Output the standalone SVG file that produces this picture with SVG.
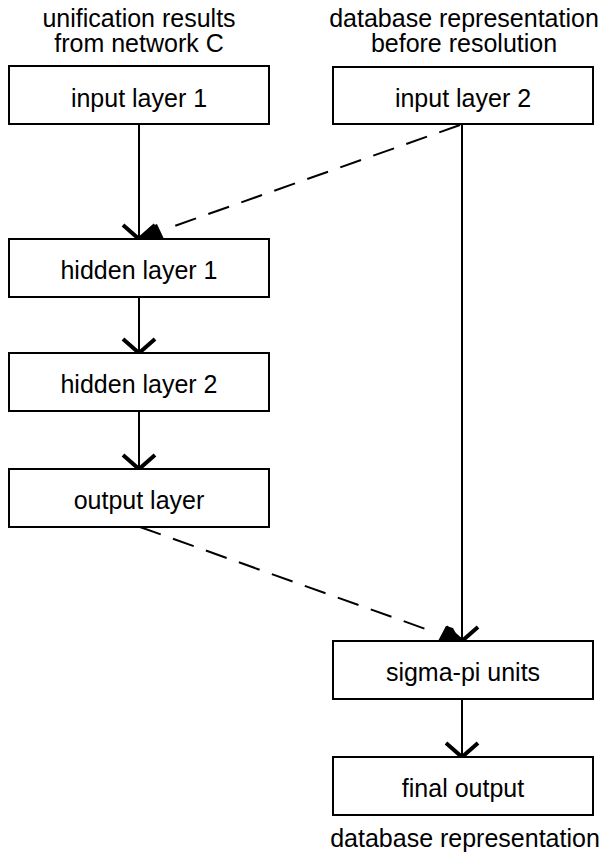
<svg xmlns="http://www.w3.org/2000/svg" width="609" height="859" viewBox="0 0 609 859">
<style>
.box{fill:#fff;stroke:#000;stroke-width:2}
.lbl{font-family:"Liberation Sans",Arial,sans-serif;font-size:25px;fill:#000;text-anchor:middle}
.ln{stroke:#000;stroke-width:2;fill:none}
.dash{stroke:#000;stroke-width:2;fill:none;stroke-dasharray:22 13}
.v{stroke:#000;stroke-width:4;fill:none;stroke-linecap:butt}
.head{fill:#000;stroke:none}
</style>
<rect width="609" height="859" fill="#fff"/>
<g id="labels">
<text class="lbl" x="139" y="27">unification results</text>
<text class="lbl" x="139" y="52">from network C</text>
<text class="lbl" x="464" y="27">database representation</text>
<text class="lbl" x="464" y="52">before resolution</text>
<text class="lbl" x="465" y="847">database representation</text>
</g>
<g id="connectors">
<line class="ln" x1="139" y1="124" x2="139" y2="239"/>
<path class="v" d="M123,225 L139,239 L155,225"/>
<line class="ln" x1="139" y1="297" x2="139" y2="353"/>
<path class="v" d="M123,339 L139,353 L155,339"/>
<line class="ln" x1="139" y1="411" x2="139" y2="469"/>
<path class="v" d="M123,455 L139,469 L155,455"/>
<line class="ln" x1="462" y1="124" x2="462" y2="641"/>
<path class="v" d="M446,627 L462,641 L478,627"/>
<line class="ln" x1="462" y1="699" x2="462" y2="757"/>
<path class="v" d="M446,743 L462,757 L478,743"/>
<line class="dash" x1="460" y1="125" x2="166" y2="229"/>
<polygon class="head" points="141,239 150,227 157,224 164,239"/>
<line class="dash" x1="140" y1="527" x2="434" y2="632"/>
<polygon class="head" points="460,641 453,628 446,626 438,641"/>
</g>
<g id="input1"><rect class="box" x="9" y="66" width="260" height="58"/><text class="lbl" x="139" y="107">input layer 1</text></g>
<g id="input2"><rect class="box" x="333" y="67" width="260" height="57"/><text class="lbl" x="463" y="107">input layer 2</text></g>
<g id="hidden1"><rect class="box" x="9" y="239" width="260" height="58"/><text class="lbl" x="139" y="279">hidden layer 1</text></g>
<g id="hidden2"><rect class="box" x="9" y="353" width="260" height="58"/><text class="lbl" x="139" y="393">hidden layer 2</text></g>
<g id="output"><rect class="box" x="9" y="469" width="260" height="58"/><text class="lbl" x="139" y="509">output layer</text></g>
<g id="sigma"><rect class="box" x="333" y="641" width="260" height="58"/><text class="lbl" x="463" y="681">sigma-pi units</text></g>
<g id="final"><rect class="box" x="333" y="757" width="260" height="58"/><text class="lbl" x="463" y="797">final output</text></g>
</svg>
